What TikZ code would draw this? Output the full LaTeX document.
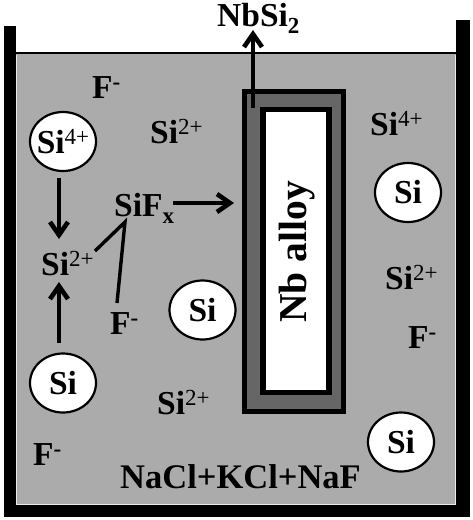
\documentclass[tikz,border=0pt]{standalone}
\usepackage{fontspec}
\setmainfont{Liberation Serif}
\usetikzlibrary{arrows.meta,shapes.geometric}
\definecolor{bath}{gray}{0.67}
\definecolor{coat}{gray}{0.40}
\newcommand{\lbl}[2]{\textbf{#1}\raisebox{9pt}{\fontsize{23}{23}\selectfont\mdseries #2}}
\begin{document}
\begin{tikzpicture}[x=1pt,y=-1pt,
  every node/.style={font=\fontsize{33.5}{33.5}\selectfont\bfseries,inner sep=0pt,text=black},
  ion/.style={anchor=base west},
  atom/.style={draw=black,line width=2.2pt,fill=white,ellipse,minimum width=66pt,minimum height=59pt,inner sep=0pt},
  flow/.style={line width=4.8pt,-{Straight Barb[length=13pt,width=18pt,line width=4.6pt]}},
  link/.style={line width=3.4pt},
]
\useasboundingbox (0,0) rectangle (473,520);
\fill[bath] (16,54) rectangle (456,505);
\draw[black,line width=1.6pt] (16,53) -- (456,53);
\fill[black] (3.5,26) rectangle (16,517);
\fill[black] (3.5,505) rectangle (470,517);
\fill[black] (456,20) rectangle (470,517);
\draw[white!75!bath,line width=.8pt] (16.5,55) -- (16.5,504.5) -- (455.5,504.5) -- (455.5,55);
% specimen
\node[draw=black,line width=5pt,fill=coat,minimum width=99pt,minimum height=320pt] (layer) at (294,251.5) {};
\node[draw=black,line width=5.5pt,fill=white,minimum width=66pt,minimum height=283pt] (alloy) at (296,251) {};
\node[rotate=90,font=\fontsize{39.5}{39.5}\selectfont\bfseries] (nb) at (297,252) {Nb alloy};
% labels
\node[ion] (nbsi) at (217,26) {NbSi\raisebox{-7pt}{\fontsize{23}{23}\selectfont 2}};
\coordinate (start) at (253,108);
\coordinate (top) at (253,30);
\draw[flow] (start) -- (top);
\node[ion] (f1) at (92,98) {F\raisebox{9pt}{\fontsize{23}{23}\selectfont -}};
\node[ion] (s1) at (150,143) {\lbl{Si}{2+}};
\node[atom,inner xsep=-3pt] (a1) at (63,141.5) {\lbl{Si}{4+}};
\node[ion] (s2) at (41,275) {\lbl{Si}{2+}};
\node[ion] (sifx) at (114,216) {SiF\raisebox{-7pt}{\fontsize{23}{23}\selectfont x}};
\node[ion] (f2) at (110,334) {F\raisebox{9pt}{\fontsize{23}{23}\selectfont -}};
\node[atom] (a2) at (202.5,310) {Si};
\node[atom] (a3) at (63,383) {Si};
\node[ion] (s3) at (157,414) {\lbl{Si}{2+}};
\node[ion] (f3) at (33,465) {F\raisebox{9pt}{\fontsize{23}{23}\selectfont -}};
\node[ion,font=\fontsize{34.5}{34.5}\selectfont\bfseries] (bath1) at (120,488) {NaCl+KCl+NaF};
\node[ion] (s4) at (370,135) {\lbl{Si}{4+}};
\node[atom] (a4) at (408,192.5) {Si};
\node[ion] (s5) at (385,289) {\lbl{Si}{2+}};
\node[ion] (f4) at (408,348) {F\raisebox{9pt}{\fontsize{23}{23}\selectfont -}};
\node[atom] (a5) at (401,442) {Si};
% connector ends
\coordinate (p1) at (59,178);
\coordinate (p2) at (59,239);
\coordinate (p3) at (59,343);
\coordinate (p4) at (59,282);
\coordinate (p5) at (173,203);
\coordinate (p6) at (234,203);
\coordinate (p7) at (95,251);
\coordinate (p8) at (125,222);
\coordinate (p9) at (117,303);
\draw[flow] (p1) -- (p2);
\draw[flow] (p3) -- (p4);
\draw[flow] (p5) -- (p6);
\draw[link] (p7) -- (p8) -- (p9);
\end{tikzpicture}
\end{document}
